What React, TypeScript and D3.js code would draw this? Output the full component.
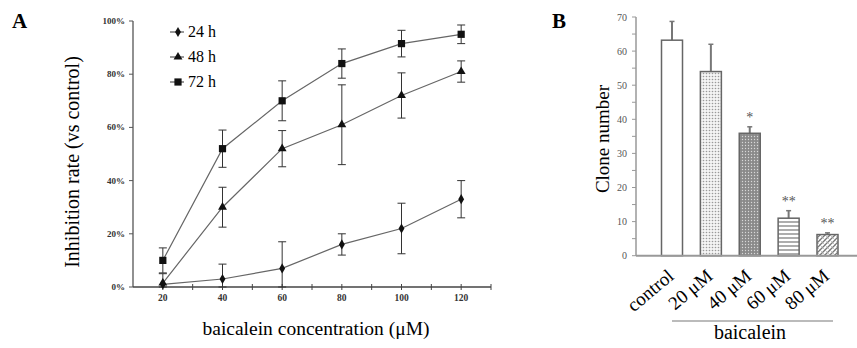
import React from 'react';
import * as d3 from 'd3';

// panel A: inhibition rate vs concentration
const concentrations = [20, 40, 60, 80, 100, 120];
const rate24 = [1, 3, 7, 16, 22, 33];
const err24 = [4, 5.6, 10, 4, 9.5, 7];
const rate48 = [1.5, 30, 52, 61, 72, 81];
const err48 = [0, 7.5, 6.8, 15, 8.5, 4];
const rate72 = [10, 52, 70, 84, 91.5, 95];
const err72 = [4.7, 7, 7.5, 5.5, 5, 3.5];
const xTickLabels = [20, 40, 60, 80, 100, 120];
const yTickLabels = ['0%', '20%', '40%', '60%', '80%', '100%'];

// panel B: clone numbers
const groups = ['control', '20 μM', '40 μM', '60 μM', '80 μM'];
const clones = [63.2, 54, 35.9, 11, 6.2];
const cloneErr = [5.5, 8, 1.9, 2.2, 0.5];
const marks = ['', '', '*', '**', '**'];

const serif = '"Liberation Serif", "DejaVu Serif", serif';

const seriesA = [
  { name: '24 h', values: rate24, errs: err24, symbol: d3.symbolDiamond, size: 30 },
  { name: '48 h', values: rate48, errs: err48, symbol: d3.symbolTriangle, size: 34 },
  { name: '72 h', values: rate72, errs: err72, symbol: d3.symbolSquare, size: 52 },
];

const fills = ['#fff', 'url(#p20)', 'url(#p40)', 'url(#p60)', 'url(#p80)'];

export default function App() {
  // scales for A
  const xA = d3.scaleLinear().domain([10, 130]).range([133, 491]);
  const yA = d3.scaleLinear().domain([0, 100]).range([287, 21]);
  const line = d3.line<number>()
    .x((d, i) => xA(concentrations[i]))
    .y(d => yA(d));

  // scales for B
  const xB = d3.scalePoint<string>().domain(groups).range([672, 827.5]);
  const yB = d3.scaleLinear().domain([0, 70]).range([255.7, 17]);
  const barW = 21;

  const legendY = [37, 62, 87];

  return (
    <svg width={857} height={348} style={{ position: 'absolute', left: 0, top: 0, background: '#fff' }}>
      <defs>
        <pattern id="p20" width={3} height={3} patternUnits="userSpaceOnUse">
          <rect width={3} height={3} fill="#f4f4f4" />
          <circle cx={1.5} cy={1.5} r={0.8} fill="#9a9a9a" />
        </pattern>
        <pattern id="p40" width={3} height={3} patternUnits="userSpaceOnUse">
          <rect width={3} height={3} fill="#8a8a8a" />
          <circle cx={1.5} cy={1.5} r={0.7} fill="#d8d8d8" />
        </pattern>
        <pattern id="p60" width={4} height={4} patternUnits="userSpaceOnUse">
          <rect width={4} height={4} fill="#fff" />
          <line x1={0} x2={4} y1={2} y2={2} stroke="#777" strokeWidth={1.2} />
        </pattern>
        <pattern id="p80" width={5} height={5} patternUnits="userSpaceOnUse">
          <rect width={5} height={5} fill="#fff" />
          <path d="M0,5 L5,0 M-1,1 L1,-1 M4,6 L6,4" stroke="#777" strokeWidth={1.3} />
          <path d="M0,0 L5,5" stroke="#aaa" strokeWidth={0.7} />
        </pattern>
      </defs>

      {/* panel letters */}
      <text x={12} y={28} fontFamily={serif} fontWeight="bold" fontSize={21}>A</text>
      <text x={552} y={28} fontFamily={serif} fontWeight="bold" fontSize={21}>B</text>

      {/* ---- panel A ---- */}
      <g fontFamily={serif}>
        <line x1={133} x2={133} y1={yA(100)} y2={yA(0)} stroke="#555" strokeWidth={1.3} />
        <line x1={133} x2={491} y1={yA(0)} y2={yA(0)} stroke="#444" strokeWidth={1.5} />
        {d3.range(0, 101, 20).map((v, i) => (
          <g key={v}>
            <line x1={129} x2={133} y1={yA(v)} y2={yA(v)} stroke="#555" />
            <text x={125} y={yA(v) + 3} textAnchor="end" fontSize={9} fontWeight="bold" fill="#333">{yTickLabels[i]}</text>
          </g>
        ))}
        {d3.range(20, 131, 10).map(v => (
          <line key={v} x1={xA(v)} x2={xA(v)} y1={yA(0) - 3} y2={yA(0) + 3} stroke="#444" />
        ))}
        {xTickLabels.map(v => (
          <text key={v} x={xA(v)} y={301} textAnchor="middle" fontSize={9.5} fontWeight="bold" fill="#333">{v}</text>
        ))}
        <text transform="translate(79,162) rotate(-90)" textAnchor="middle" fontSize={20}>Inhibition rate (vs control)</text>
        <text x={316} y={335} textAnchor="middle" fontSize={19.5}>baicalein concentration (μM)</text>

        {seriesA.map(s => (
          <g key={s.name}>
            <path d={line(s.values) || ''} fill="none" stroke="#666" strokeWidth={1.2} />
            {s.values.map((v, i) => {
              const cx = xA(concentrations[i]);
              const hi = yA(v + s.errs[i]);
              const lo = yA(Math.max(0, v - s.errs[i]));
              return (
                <g key={i}>
                  {s.errs[i] > 0 && (
                    <g stroke="#333" strokeWidth={1}>
                      <line x1={cx} x2={cx} y1={hi} y2={lo} />
                      <line x1={cx - 4} x2={cx + 4} y1={hi} y2={hi} />
                      <line x1={cx - 4} x2={cx + 4} y1={lo} y2={lo} />
                    </g>
                  )}
                  <path transform={`translate(${cx},${yA(v)})`} d={d3.symbol(s.symbol, s.size)() || ''} fill="#111" />
                </g>
              );
            })}
          </g>
        ))}

        {seriesA.map((s, i) => (
          <g key={s.name}>
            <line x1={170} x2={184} y1={legendY[i] - 5} y2={legendY[i] - 5} stroke="#555" strokeWidth={1.2} />
            <path transform={`translate(178,${legendY[i] - 5})`} d={d3.symbol(s.symbol, s.size)() || ''} fill="#111" />
            <text x={188} y={legendY[i]} fontSize={16}>{s.name}</text>
          </g>
        ))}
      </g>

      {/* ---- panel B ---- */}
      <g fontFamily={serif}>
        <line x1={636} x2={636} y1={yB(70)} y2={yB(0)} stroke="#999" strokeWidth={1.5} />
        {d3.range(0, 71, 5).map(v => (
          <line key={v} x1={632} x2={636} y1={yB(v)} y2={yB(v)} stroke="#999" />
        ))}
        {d3.range(0, 71, 10).map(v => (
          <text key={v} x={627} y={yB(v) + 3.5} textAnchor="end" fontSize={10} fill="#555">{v}</text>
        ))}
        <text transform="translate(609,139) rotate(-90)" textAnchor="middle" fontSize={19}>Clone number</text>

        {groups.map((g, i) => {
          const cx = xB(g) as number;
          const top = yB(clones[i]);
          const et = yB(clones[i] + cloneErr[i]);
          return (
            <g key={g}>
              <line x1={cx} x2={cx} y1={et} y2={top} stroke="#777" strokeWidth={2} />
              <line x1={cx - 2.5} x2={cx + 2.5} y1={et} y2={et} stroke="#777" strokeWidth={1.5} />
              <rect x={cx - barW / 2} y={top} width={barW} height={yB(0) - top}
                fill={fills[i]} stroke="#666" strokeWidth={1.5} />
              {marks[i] && (
                <text x={cx} y={et - 5} textAnchor="middle" fontSize={14} fill="#555">{marks[i]}</text>
              )}
              <text transform={`translate(${cx + 3},278) rotate(-40)`} textAnchor="end" fontSize={19}>{g}</text>
            </g>
          );
        })}
        <line x1={636} x2={857} y1={yB(0)} y2={yB(0)} stroke="#999" strokeWidth={2} />
        <line x1={672} x2={833} y1={321} y2={321} stroke="#bbb" strokeWidth={2} />
        <text x={750} y={339} textAnchor="middle" fontSize={20}>baicalein</text>
      </g>
    </svg>
  );
}
